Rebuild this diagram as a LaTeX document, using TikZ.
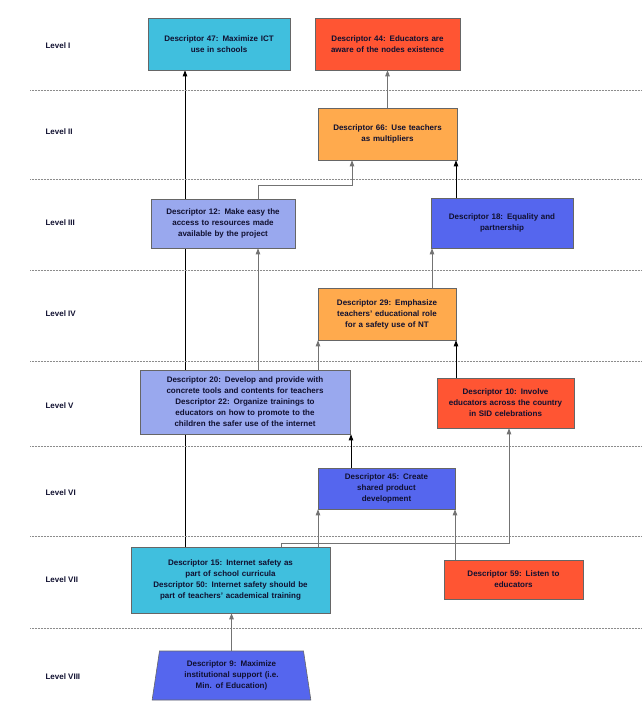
\documentclass[tikz,border=0pt]{standalone}
\usepackage{fontspec}
\setmainfont{Liberation Sans}
\usetikzlibrary{backgrounds,shapes.geometric,arrows.meta}
\definecolor{cy}{HTML}{40BFDE}
\definecolor{rd}{HTML}{FF5533}
\definecolor{og}{HTML}{FFAA4D}
\definecolor{lb}{HTML}{99A8EE}
\definecolor{bl}{HTML}{5566EE}
\definecolor{tx}{HTML}{101030}
\tikzset{
 box/.style={draw=black!60,line width=0.6pt,align=center,text=tx,inner sep=1pt,
   font=\fontsize{8}{11}\selectfont\bfseries},
 lvl/.style={font=\fontsize{8}{10}\selectfont\bfseries,text=tx,anchor=west},
 sep/.style={densely dotted,black!45,line width=0.5pt},
 ar/.style={-{Triangle[length=6pt,width=4.5pt]},line width=0.7pt},
 gr/.style={ar,black!55},
 bk/.style={ar,black}
}
\newcommand{\bx}[7]{\node[box,fill=#6,minimum width=#3-#2 pt,minimum height=#5-#4 pt,text width=#3-#2-6 pt] (#1) at ({(#2+#3)/2},{(#4+#5)/2}) {#7};}
\begin{document}
\begin{tikzpicture}[x=1pt,y=-1pt]
\useasboundingbox (0,0) rectangle (642,701);
\foreach \y in {90,179,270,361,446,536,628} \draw[sep] (30,\y) -- (642,\y);
\foreach \t/\y in {I/46,II/132,III/223,IV/314,V/406,VI/493,VII/580,VIII/677}
  \node[lvl] (L\t) at (42,\y) {Level \t};
\bx{d47}{148}{290}{18}{70}{cy}{Descriptor 47: Maximize ICT\\use in schools}
\bx{d44}{315}{460}{18}{70}{rd}{Descriptor 44: Educators are\\aware of the nodes existence}
\bx{d66}{318}{457}{108}{160}{og}{Descriptor 66: Use teachers\\as multipliers}
\bx{d12}{151}{295}{199}{248}{lb}{Descriptor 12: Make easy the\\access to resources made\\available by the project}
\bx{d18}{431}{573}{198}{248}{bl}{Descriptor 18: Equality and\\partnership}
\bx{d29}{318}{456}{288}{340}{og}{Descriptor 29: Emphasize\\teachers' educational role\\for a safety use of NT}
\bx{d20}{140}{350}{370}{434}{lb}{Descriptor 20: Develop and provide with\\concrete tools and contents for teachers\\Descriptor 22: Organize trainings to\\educators on how to promote to the\\children the safer use of the internet}
\bx{d10}{437}{574}{378}{428}{rd}{Descriptor 10: Involve\\educators across the country\\in SID celebrations}
\bx{d45}{318}{455}{468}{509}{bl}{Descriptor 45: Create\\shared product\\development}
\bx{d15}{131}{330}{547}{613}{cy}{Descriptor 15: Internet safety as\\part of school curricula\\Descriptor 50: Internet safety should be\\part of teachers' academical training}
\bx{d59}{444}{583}{560}{599}{rd}{Descriptor 59: Listen to\\educators}
\node[box,fill=bl,trapezium,trapezium left angle=77,trapezium right angle=77,trapezium stretches=true,minimum width=159pt,minimum height=49pt,text width=140pt] (d9) at (231.5,675.5) {Descriptor 9: Maximize\\institutional support (i.e.\\Min. of Education)};
\begin{scope}[on background layer]
\draw[bk] (d15.north -| 185,0) -- (d47.south -| 185,0);
\end{scope}
\draw[gr] (d12.north -| 258,0) |- (352,185) -- (d66.south -| 352,0);
\draw[gr] (d20.north -| 258,0) -- (d12.south -| 258,0);
\draw[gr] (d20.north -| 318,0) -- (d29.south -| 318,0);
\draw[gr] (d29.north -| 432,0) -- (d18.south -| 432,0);
\draw[bk] (d18.north -| 456,0) -- (d66.south -| 456,0);
\draw[gr] (d66.north) -- (d44.south -| d66.north);
\draw[bk] (d10.north -| 456,0) -- (d29.south -| 456,0);
\draw[bk] (d45.north -| 351,0) -- (d20.south -| 351,0);
\draw[gr] (d15.north -| 318,0) -- (d45.south -| 318,0);
\draw[gr] (d15.north -| 281,0) |- (509,543) -- (d10.south -| 509,0);
\draw[gr] (d59.north -| 455,0) -- (d45.south -| 455,0);
\draw[gr] (d9.north) -- (d15.south -| d9.north);
\end{tikzpicture}
\end{document}
